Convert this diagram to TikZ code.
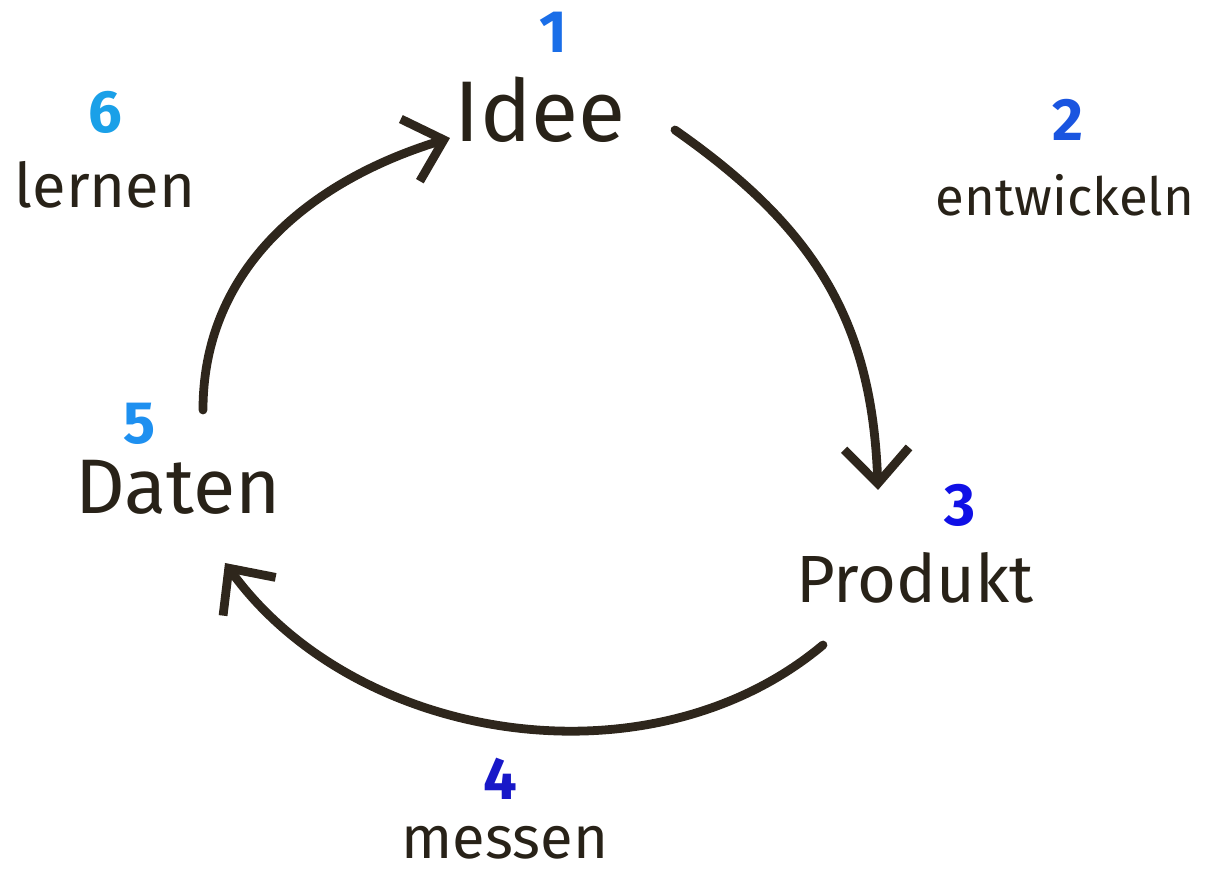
\documentclass[tikz,border=0pt]{standalone}
\usepackage{fontspec}
\setmainfont{Fira Sans}
\usetikzlibrary{arrows.meta,calc,positioning}
\definecolor{cycleInk}{RGB}{40,34,24}
\definecolor{cycleLine}{RGB}{46,38,28}
\definecolor{stepOne}{RGB}{26,110,232}
\definecolor{stepTwo}{RGB}{26,85,224}
\definecolor{stepThree}{RGB}{16,16,230}
\definecolor{stepFour}{RGB}{24,24,200}
\definecolor{stepFive}{RGB}{30,144,240}
\definecolor{stepSix}{RGB}{26,160,232}

\tikzset{
  phase/.style={text=cycleInk,inner sep=0pt},
  stepnum/.style={font=\fontsize{17}{17}\selectfont\bfseries,inner sep=0pt},
  flow/.style={cycleLine,line width=2.5pt,line cap=round,
    -{Straight Barb[length=3.5mm,width=6.5mm,line width=2.5pt]}}
}

\begin{document}
\begin{tikzpicture}[x=0.1mm,y=0.1mm]
      \useasboundingbox (0,0) rectangle (1207,871);
      % main stations
      \node[phase,font=\fontsize{24.5}{24.5}\selectfont] (idee) at (540,761) {Idee};
      \node[phase,font=\fontsize{19}{19}\selectfont] (produkt) at (915,293) {Produkt};
      \node[phase,font=\fontsize{22}{22}\selectfont] (daten) at (178,384) {Daten};
      % activities
      \node[phase,font=\fontsize{15}{15}\selectfont] (entwickeln) at (1065,676) {entwickeln};
      \node[phase,font=\fontsize{17}{17}\selectfont] (messen) at (505,28) {messen};
      \node[phase,font=\fontsize{17.5}{17.5}\selectfont] (lernen) at (105,686) {lernen};
      % numbers
      \node[stepnum,text=stepOne] (n1) at (553,839) {1};
      \node[stepnum,text=stepTwo] (n2) at (1068,751) {2};
      \node[stepnum,text=stepThree] (n3) at (960,366) {3};
      \node[stepnum,text=stepFour] (n4) at (500,92) {4};
      \node[stepnum,text=stepFive] (n5) at (140,447) {5};
      \node[stepnum,text=stepSix] (n6) at (105,759) {6};
      % cycle
      \draw[flow] ($(idee.center)+(135,-20)$) to[out=-35,in=92,looseness=1.05] ($(produkt.center)+(-37,88)$);
      \draw[flow] ($(produkt.center)+(-92,-67)$) to[out=-140,in=-54,looseness=0.95] ($(daten.center)+(47,-76)$);
      \draw[flow] ($(daten.center)+(25,77)$) to[out=90,in=197,looseness=1] ($(idee.center)+(-90,-28)$);
    \end{tikzpicture}
\end{document}
